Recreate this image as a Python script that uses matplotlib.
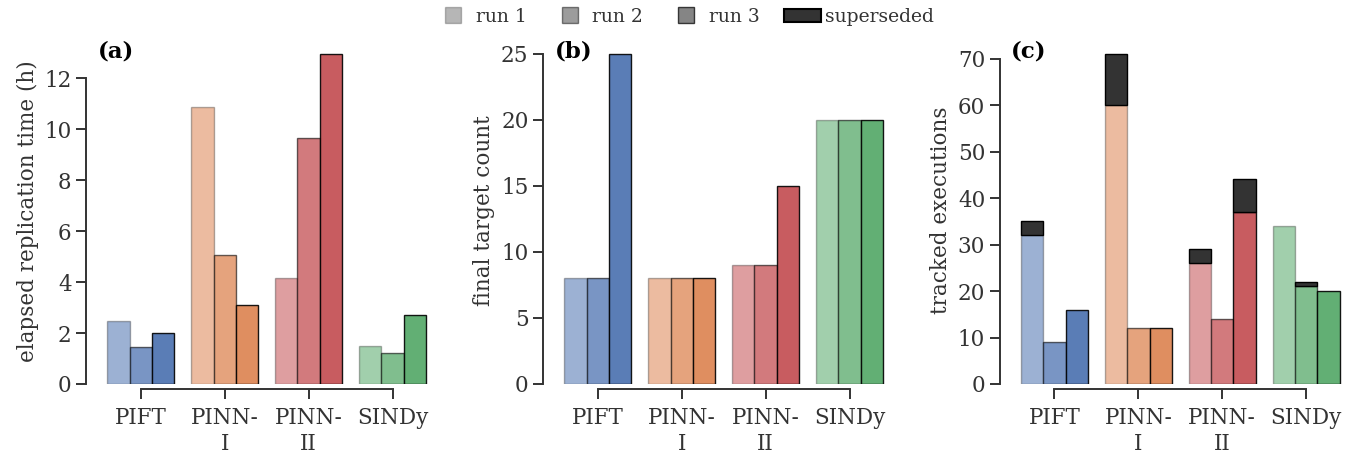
import matplotlib
matplotlib.use("Agg")
import matplotlib.pyplot as plt
from matplotlib.lines import Line2D
from matplotlib.patches import Patch
from matplotlib.colors import to_rgba
import numpy as np

# ---------------- data ----------------
categories = ["PIFT", "PINN-\nI", "PINN-\nII", "SINDy"]
run_labels = ["run 1", "run 2", "run 3"]

time_run1 = [2.47, 10.86, 4.15, 1.50]
time_run2 = [1.47, 5.07, 9.65, 1.22]
time_run3 = [1.99, 3.09, 12.96, 2.70]

target_run1 = [8, 8, 9, 20]
target_run2 = [8, 8, 9, 20]
target_run3 = [25, 8, 15, 20]

exec_run1 = [32, 60, 26, 34]
exec_run2 = [9, 12, 14, 21]
exec_run3 = [16, 12, 37, 20]
superseded_run1 = [3, 11, 3, 0]
superseded_run2 = [0, 0, 0, 1]
superseded_run3 = [0, 0, 7, 0]

panel_labels = ["(a)", "(b)", "(c)"]
ylabels = ["elapsed replication time (h)", "final target count", "tracked executions"]
yticks_list = [np.arange(0, 13, 2), np.arange(0, 26, 5), np.arange(0, 71, 10)]

# ---------------- style ----------------
plt.rcParams["font.family"] = ["DejaVu Serif"]
FS = 15.5
plt.rcParams["font.size"] = FS
TXT = "#333333"
plt.rcParams["text.color"] = TXT
plt.rcParams["axes.labelcolor"] = TXT
plt.rcParams["xtick.color"] = TXT
plt.rcParams["ytick.color"] = TXT

base_colors = ["#4C72B0", "#DD8452", "#C44E52", "#55A868"]
face_alpha = [0.55, 0.75, 0.92]
edge_alpha = [0.3, 0.6, 0.9]
sup_color = "#333333"

fig = plt.figure(figsize=(13.6, 4.54), dpi=100)
W, H = 1360, 454
lefts = [91.4, 548.4, 1005.0]
ax_w = 350.6
bottom_px = 384
top_px = 37.5
axes = [fig.add_axes([l / W, (H - bottom_px) / H, ax_w / W, (bottom_px - top_px) / H]) for l in lefts]

datasets = [
    ([time_run1, time_run2, time_run3], None),
    ([target_run1, target_run2, target_run3], None),
    ([exec_run1, exec_run2, exec_run3], [superseded_run1, superseded_run2, superseded_run3]),
]

x = np.arange(len(categories))
bw = 0.8 / 3

for k, (ax, (runs, sups)) in enumerate(zip(axes, datasets)):
    tops = []
    for r, vals in enumerate(runs):
        pos = x + (r - 1) * bw
        for i in range(len(categories)):
            fc = to_rgba(base_colors[i], face_alpha[r])
            ec = to_rgba("black", edge_alpha[r])
            ax.bar(pos[i], vals[i], width=bw, color=fc, edgecolor=ec, linewidth=1.0)
            top = vals[i]
            if sups is not None and sups[r][i] > 0:
                ax.bar(pos[i], sups[r][i], width=bw, bottom=vals[i], color=sup_color,
                       edgecolor="black", linewidth=1.0)
                top += sups[r][i]
            tops.append(top)
    ymax = max(tops)
    ax.set_ylim(0, ymax * 1.05)
    ax.set_xlim(-0.59, 3.59)
    ax.set_xticks(x)
    ax.set_xticklabels(categories, linespacing=1.05)
    ax.set_yticks(yticks_list[k])
    ax.set_ylabel(ylabels[k], fontsize=FS)
    for s in ["top", "right"]:
        ax.spines[s].set_visible(False)
    ax.spines["left"].set_position(("outward", 3.6))
    ax.spines["bottom"].set_position(("outward", 3.6))
    ax.spines["left"].set_bounds(yticks_list[k][0], yticks_list[k][-1])
    ax.spines["bottom"].set_bounds(x[0], x[-1])
    for s in ["left", "bottom"]:
        ax.spines[s].set_color(TXT)
        ax.spines[s].set_linewidth(1.4)
    ax.tick_params(axis="both", length=7.2, width=1.4, color=TXT, labelsize=FS)
    ax.tick_params(axis="x", pad=6)
    ax.text(0.018, 0.99, panel_labels[k], transform=ax.transAxes, ha="left", va="top",
            fontsize=16.5, fontweight="bold", color="black")

# ---------------- legend ----------------
gray = "#7b7b7b"
handles = []
for r in range(3):
    handles.append(Line2D([], [], linestyle="none", marker="s", markersize=11,
                          markerfacecolor=to_rgba(gray, face_alpha[r]),
                          markeredgecolor=to_rgba("black", edge_alpha[r] * 0.8),
                          markeredgewidth=1.0))
handles.append(Patch(facecolor=sup_color, edgecolor="black", linewidth=1.5))
fig.legend(handles, run_labels + ["superseded"], loc="upper center",
           bbox_to_anchor=(0.503, 1.02), ncol=4, frameon=False, fontsize=13.5,
           handlelength=2.0, handletextpad=0.2, columnspacing=1.3)

fig.savefig("out.png", dpi=100)
